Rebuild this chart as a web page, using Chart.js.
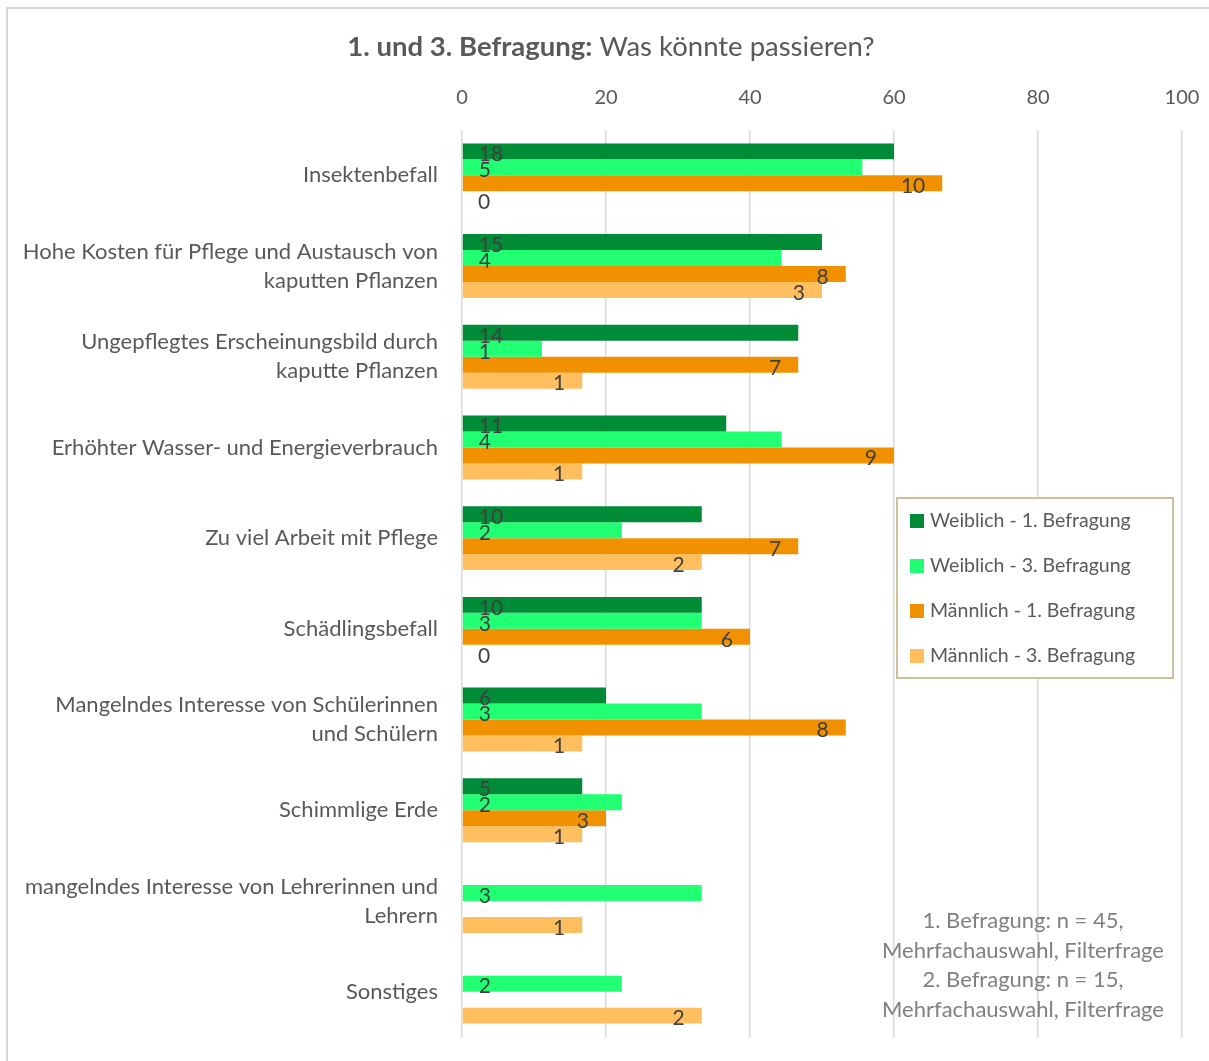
<!DOCTYPE html>
<html>
<head>
<meta charset="utf-8">
<script src="https://cdn.jsdelivr.net/npm/chart.js@4.4.1/dist/chart.umd.min.js"></script>
<style>
  html, body { margin: 0; padding: 0; background: #ffffff; }
  #wrap { width: 1209px; height: 1061px; position: relative; }
</style>
</head>
<body>
<div id="wrap"><canvas id="c" width="1209" height="1061"></canvas></div>
<script>
// ---- data ----
const categories = [
  ["Insektenbefall"],
  ["Hohe Kosten für Pflege und Austausch von", "kaputten Pflanzen"],
  ["Ungepflegtes Erscheinungsbild durch", "kaputte Pflanzen"],
  ["Erhöhter Wasser- und Energieverbrauch"],
  ["Zu viel Arbeit mit Pflege"],
  ["Schädlingsbefall"],
  ["Mangelndes Interesse von Schülerinnen", "und Schülern"],
  ["Schimmlige Erde"],
  ["mangelndes Interesse von Lehrerinnen und", "Lehrern"],
  ["Sonstiges"]
];
const seriesNames = ["Weiblich - 1. Befragung", "Weiblich - 3. Befragung", "Männlich - 1. Befragung", "Männlich - 3. Befragung"];
// percentages (bar length)
const weiblich1 = [60, 50, 46.7, 36.7, 33.3, 33.3, 20, 16.7, null, null];
const weiblich3 = [55.6, 44.4, 11.1, 44.4, 22.2, 33.3, 33.3, 22.2, 33.3, 22.2];
const maennlich1 = [66.7, 53.3, 46.7, 60, 46.7, 40, 53.3, 20, null, null];
const maennlich3 = [0, 50, 16.7, 16.7, 33.3, 0, 16.7, 16.7, 16.7, 33.3];
// counts (data labels)
const weiblich1Counts = [18, 15, 14, 11, 10, 10, 6, 5, null, null];
const weiblich3Counts = [5, 4, 1, 4, 2, 3, 3, 2, 3, 2];
const maennlich1Counts = [10, 8, 7, 9, 7, 6, 8, 3, null, null];
const maennlich3Counts = [0, 3, 1, 1, 2, 0, 1, 1, 1, 2];
const xTicks = [0, 20, 40, 60, 80, 100];
const titleBold = "1. und 3. Befragung:";
const titleRegular = " Was könnte passieren?";
const noteLines = ["1. Befragung: n = 45,", "Mehrfachauswahl, Filterfrage", "2. Befragung: n = 15,", "Mehrfachauswahl, Filterfrage"];

const colors = ["#008C37", "#21FF72", "#F29100", "#FFBF5F"];
const FONT = "Lato, 'Open Sans', sans-serif";
const TEXT = "#595959";

const allCounts = [weiblich1Counts, weiblich3Counts, maennlich1Counts, maennlich3Counts];
const allValues = [weiblich1, weiblich3, maennlich1, maennlich3];

const frame = {
  id: 'frame',
  beforeDraw(chart) {
    const ctx = chart.ctx;
    ctx.save();
    ctx.fillStyle = '#ffffff';
    ctx.fillRect(0, 0, chart.width, chart.height);
    ctx.strokeStyle = '#D9D9D9';
    ctx.lineWidth = 2;
    ctx.beginPath();
    ctx.moveTo(7, chart.height + 5);
    ctx.lineTo(7, 8);
    ctx.lineTo(chart.width + 5, 8);
    ctx.stroke();
    // title
    const fs = 27.5;
    ctx.font = "bold " + fs + "px " + FONT;
    const wb = ctx.measureText(titleBold).width;
    ctx.font = fs + "px " + FONT;
    const wr = ctx.measureText(titleRegular).width;
    const cx = 611;
    let x = cx - (wb + wr) / 2;
    ctx.textBaseline = 'middle';
    ctx.fillStyle = TEXT;
    ctx.textAlign = 'left';
    ctx.font = "bold " + fs + "px " + FONT;
    ctx.fillText(titleBold, x, 47);
    ctx.font = fs + "px " + FONT;
    ctx.fillText(titleRegular, x + wb, 47);
    ctx.restore();
  },
  afterDraw(chart) {
    const ctx = chart.ctx;
    ctx.save();
    // legend box
    const lx = 897, ly = 498, lw = 276, lh = 180;
    ctx.fillStyle = '#ffffff';
    ctx.fillRect(lx, ly, lw, lh);
    ctx.strokeStyle = '#C9C29C';
    ctx.lineWidth = 2;
    ctx.strokeRect(lx, ly, lw, lh);
    ctx.font = "19.5px " + FONT;
    ctx.textBaseline = 'middle';
    ctx.textAlign = 'left';
    chart.data.datasets.forEach((ds, i) => {
      const y = 521 + i * 45;
      ctx.fillStyle = ds.backgroundColor;
      ctx.fillRect(910, y - 7, 14, 14);
      ctx.fillStyle = TEXT;
      ctx.fillText(ds.label, 930, y);
    });
    // note
    ctx.font = "22px " + FONT;
    ctx.fillStyle = '#808080';
    ctx.textAlign = 'center';
    noteLines.forEach((t, i) => {
      ctx.fillText(t, 1023, 921 + i * 29.5);
    });
    ctx.restore();
  }
};

const dataLabels = {
  id: 'dataLabels',
  afterDatasetsDraw(chart) {
    const ctx = chart.ctx;
    ctx.save();
    ctx.font = "21px " + FONT;
    ctx.fillStyle = '#404040';
    ctx.textBaseline = 'middle';
    chart.data.datasets.forEach((ds, di) => {
      const meta = chart.getDatasetMeta(di);
      meta.data.forEach((el, i) => {
        const v = allValues[di][i];
        const c = allCounts[di][i];
        if (v === null || c === null) return;
        const y = el.y + 3;
        if (di < 2 || v === 0) {
          ctx.textAlign = 'left';
          ctx.fillText(String(c), el.base + 16, y);
        } else {
          ctx.textAlign = 'right';
          ctx.fillText(String(c), el.x - 17, y);
        }
      });
    });
    ctx.restore();
  }
};

new Chart(document.getElementById('c'), {
  type: 'bar',
  data: {
    labels: categories,
    datasets: allValues.map((vals, i) => ({
      label: seriesNames[i],
      data: vals,
      backgroundColor: colors[i],
      borderWidth: 0,
      categoryPercentage: 0.705,
      barPercentage: 1.0
    }))
  },
  options: {
    indexAxis: 'y',
    responsive: false,
    animation: false,
    layout: { padding: { top: 0, left: 0, right: 27, bottom: 24 } },
    plugins: {
      legend: { display: false },
      title: { display: false },
      tooltip: { enabled: false }
    },
    scales: {
      x: {
        position: 'top',
        min: 0,
        max: 100,
        afterFit(scale) {
          scale.height = 130;
          scale.paddingLeft = 0; scale.paddingRight = 0;
          scale.paddingTop = 0; scale.paddingBottom = 0;
        },
        afterBuildTicks(scale) { scale.ticks = xTicks.map(v => ({ value: v })); },
        ticks: {
          color: TEXT,
          font: { family: FONT, size: 20 },
          padding: 20
        },
        grid: { color: '#D9D9D9', lineWidth: 1.5, drawTicks: false },
        border: { display: false }
      },
      y: {
        afterFit(scale) {
          scale.width = 462;
          scale.paddingLeft = 0; scale.paddingRight = 0;
          scale.paddingTop = 0; scale.paddingBottom = 0;
        },
        ticks: {
          color: TEXT,
          font: { family: FONT, size: 22, lineHeight: 1.32 },
          padding: 24
        },
        grid: { display: false, drawTicks: false },
        border: { display: false }
      }
    }
  },
  plugins: [frame, dataLabels]
});
</script>
</body>
</html>
